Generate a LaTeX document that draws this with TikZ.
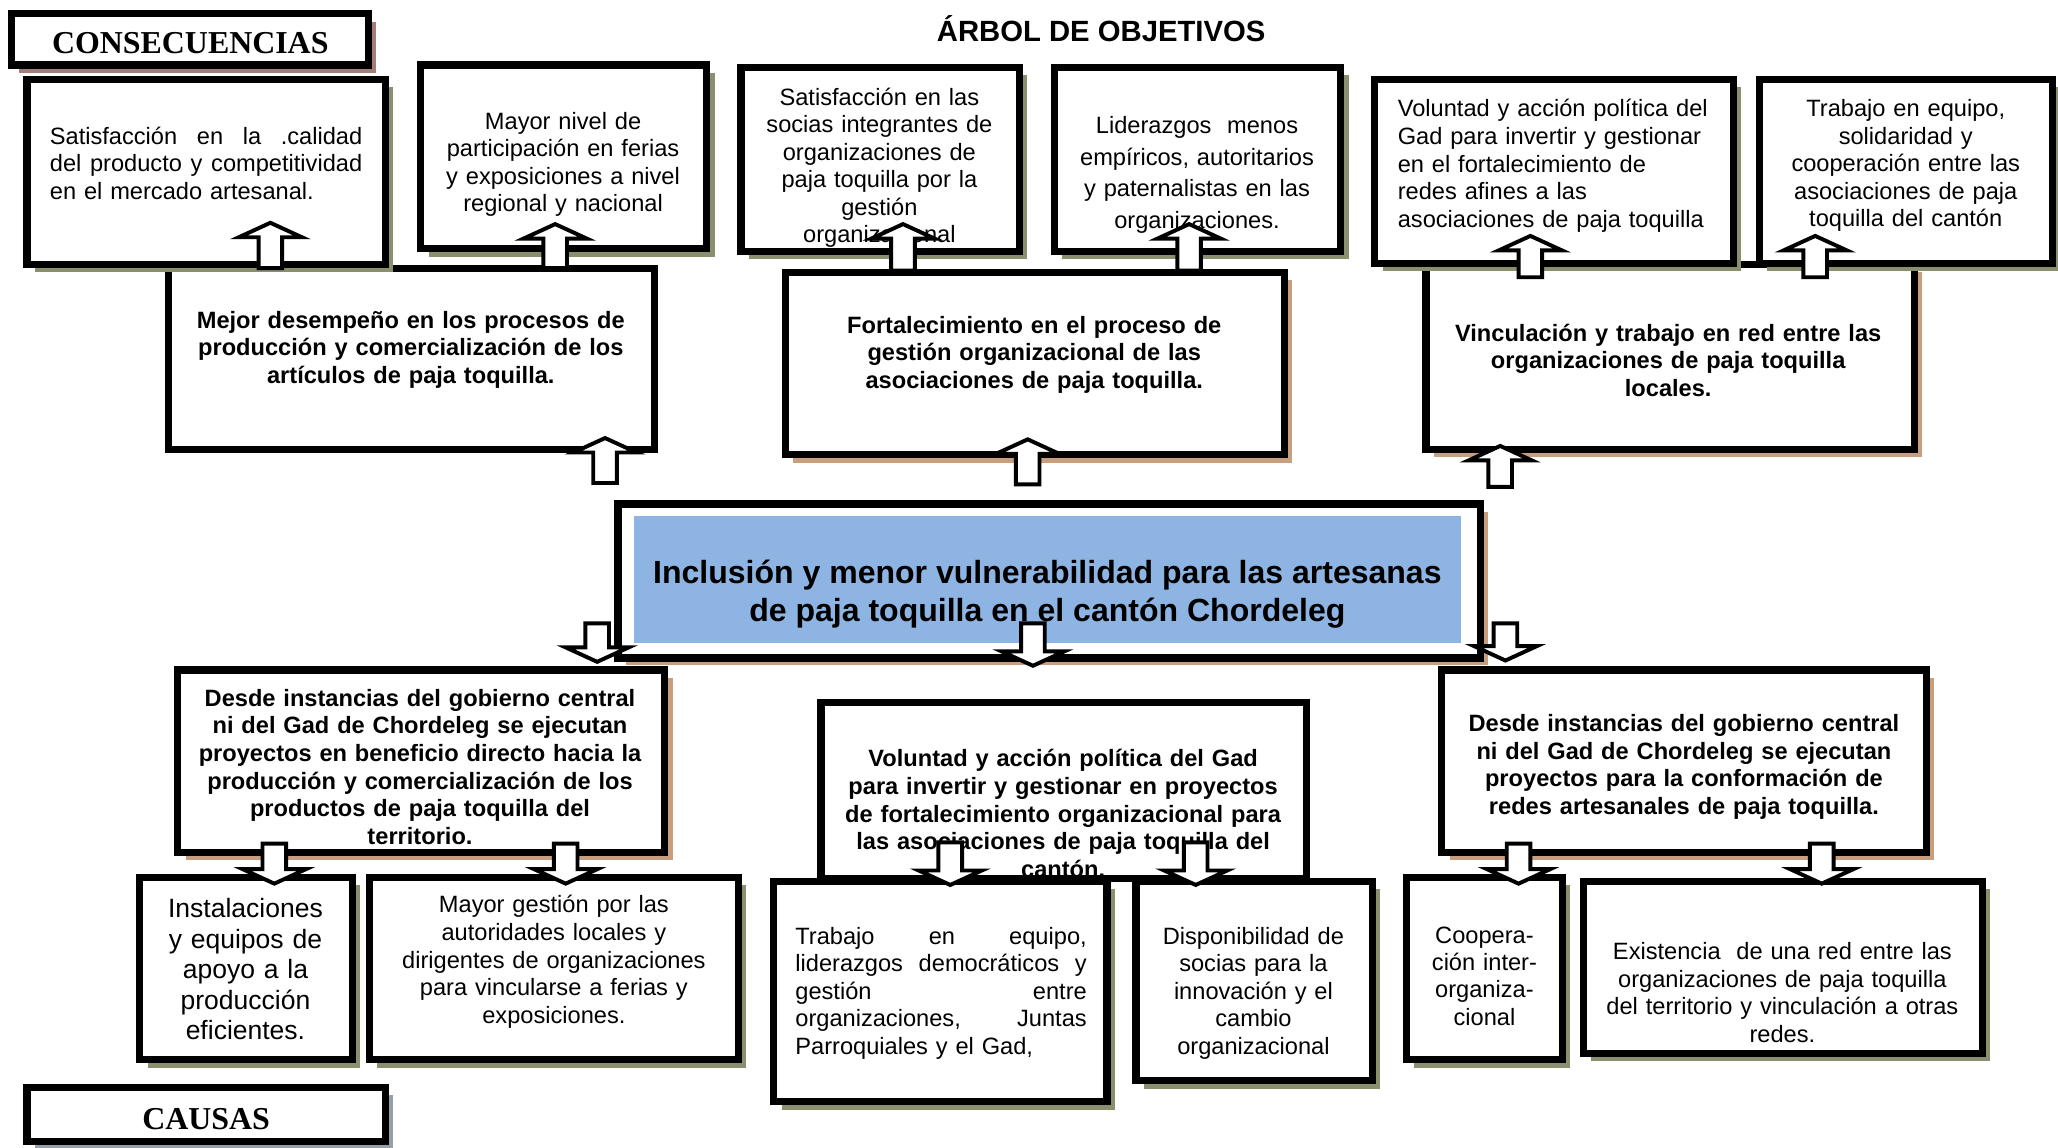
\documentclass[tikz,border=0pt]{standalone}
\usepackage{fontspec}
\setmainfont{Liberation Sans}
\newfontfamily\romanfont{Liberation Serif}
\usepackage{tikz}
\usetikzlibrary{calc,shadows}

\definecolor{olivesh}{RGB}{138,144,110}
\definecolor{tansh}{RGB}{200,158,126}
\definecolor{rosesh}{RGB}{165,125,120}
\definecolor{greysh}{RGB}{150,160,170}
\definecolor{goalblue}{RGB}{141,180,226}

% block arrow from tail (#1) to tip (#2)
\newcommand\fatarrow[2]{%
  \path (#1) coordinate (tl) (#2) coordinate (tp);
  \path ($(tp)!11pt!(tl)$) coordinate (hd);
  \draw[fat] ($(tl)!9pt!90:(tp)$) -- ($(hd)!9pt!90:(tp)$) -- ($(hd)!24pt!90:(tp)$) -- (tp)
    -- ($(hd)!24pt!-90:(tp)$) -- ($(hd)!9pt!-90:(tp)$) -- ($(tl)!9pt!-90:(tp)$) -- cycle;}
% line spread to a given width
\newcommand\spreadline[2]{\leavevmode\hbox to #1{#2}}

\begin{document}
\begin{tikzpicture}[x=1pt, y=-1pt,
  box/.style={draw, line width=5.5pt, fill=white, inner sep=0pt},
  olivebox/.style={box, drop shadow={shadow xshift=6pt, shadow yshift=-6pt, fill=olivesh, opacity=1}},
  tanbox/.style={box, drop shadow={shadow xshift=6pt, shadow yshift=-6pt, fill=tansh, opacity=1}},
  txt/.style={inner sep=0pt, align=center, font=\fontsize{18}{21}\selectfont},
  boldtxt/.style={txt, font=\fontsize{18}{21}\selectfont\bfseries},
  headtxt/.style={inner sep=0pt, font=\fontsize{24.3}{28}\selectfont\romanfont\bfseries},
  fat/.style={draw, fill=white, line width=3pt, line join=miter}]

\fill[white] (0,0) rectangle (1568,874);
\useasboundingbox (0,0) rectangle (1568,874);

% efectos
\node[box, minimum width=370pt, minimum height=138pt] (M1) at (313.5,273.5) {};
\node[tanbox, minimum width=380pt, minimum height=139pt] (M2) at (788.5,277) {};
\node[tanbox, minimum width=372pt, minimum height=141pt] (M3) at (1272.5,272) {};

% consecuencias
\node[olivebox, minimum width=273pt, minimum height=141pt] (C1) at (157,131) {};
\node[olivebox, minimum width=218pt, minimum height=140pt] (C2) at (429.5,119.5) {};
\node[olivebox, minimum width=212pt, minimum height=140pt] (C3) at (670.5,121.5) {};
\node[olivebox, minimum width=218pt, minimum height=140pt] (C4) at (912.5,121.5) {};
\node[olivebox, minimum width=273pt, minimum height=140pt] (C5) at (1184,130.5) {};
\node[olivebox, minimum width=223pt, minimum height=140pt] (C6) at (1452,130.5) {};
\node[box, drop shadow={shadow xshift=6pt, shadow yshift=-6pt, fill=rosesh, opacity=1},
  minimum width=272pt, minimum height=39pt] (cons) at (144.5,30) {};

% problema central
\node[tanbox, line width=6pt, minimum width=657pt, minimum height=117pt] (goal) at (799.5,442.5) {};
\node[fill=goalblue, inner sep=0pt, minimum width=630pt, minimum height=97pt] (goalfill) at (798,441.5) {};

% causas
\node[tanbox, minimum width=371pt, minimum height=139pt] (K1) at (321,580) {};
\node[box, minimum width=370pt, minimum height=134pt] (K2) at (810.5,602.5) {};
\node[tanbox, minimum width=369pt, minimum height=139pt] (K3) at (1283,580) {};
\node[olivebox, minimum width=162pt, minimum height=139pt] (B1) at (187.5,738) {};
\node[olivebox, minimum width=281pt, minimum height=139pt] (B2) at (422,738) {};
\node[olivebox, minimum width=254pt, minimum height=168pt] (B3) at (716.5,755.5) {};
\node[olivebox, minimum width=180pt, minimum height=152pt] (B4) at (955.5,747.5) {};
\node[olivebox, minimum width=119pt, minimum height=139pt] (B5) at (1131,738) {};
\node[olivebox, minimum width=304pt, minimum height=131pt] (B6) at (1358.5,737) {};
\node[box, drop shadow={shadow xshift=6pt, shadow yshift=-6pt, fill=greysh, opacity=1},
  minimum width=273pt, minimum height=41pt] (causes) at (157,849) {};

% textos
\node[font=\fontsize{22.3}{26}\selectfont\bfseries, anchor=base, inner sep=0pt] (title) at (839,32) {ÁRBOL DE OBJETIVOS};
\node[headtxt] (conslbl) at (145,33) {CONSECUENCIAS};
\node[headtxt] (causeslbl) at (157,853) {CAUSAS};

\node[txt, align=left, text width=238pt] (C1t) at (157,124.3) {\spreadline{238pt}{Satisfacción\hfil{} en\hfil{} la\hfil{} .calidad}\\
  \spreadline{238pt}{del\hfil{} producto\hfil{} y\hfil{} competitividad}\\ en el mercado artesanal.};
\node[txt, text width=215pt] (C2t) at (429,125.3) {Mayor nivel de\\ participación en ferias\\ y exposiciones a nivel\\ regional y nacional};
\node[txt, text width=210pt] (C3t) at (670,127.8) {Satisfacción en las\\ socias integrantes de\\ organizaciones de\\ paja toquilla por la\\ gestión\\ organizacional};
\node[txt, text width=215pt, font=\fontsize{18}{24}\selectfont] (C4t) at (912,133.3) {Liderazgos\ \ menos\\ empíricos, autoritarios\\ y paternalistas en las\\ organizaciones.};
\node[txt, align=left, text width=240pt] (C5t) at (1185,126.3) {Voluntad y acción política del\\ Gad para invertir y gestionar\\ en el fortalecimiento de\\ redes afines a las\\ asociaciones de paja toquilla};
\node[txt, text width=220pt] (C6t) at (1452,126.3) {Trabajo en equipo,\\ solidaridad y\\ cooperación entre las\\ asociaciones de paja\\ toquilla del cantón};

\node[boldtxt, text width=365pt] (M1t) at (313,266.3) {Mejor desempeño en los procesos de\\ producción y comercialización de los\\ artículos de paja toquilla.};
\node[boldtxt, text width=375pt] (M2t) at (788,270.3) {Fortalecimiento en el proceso de\\ gestión organizacional de las\\ asociaciones de paja toquilla.};
\node[boldtxt, text width=365pt] (M3t) at (1271,274.3) {Vinculación y trabajo en red entre las\\ organizaciones de paja toquilla\\ locales.};

\node[txt, font=\fontsize{24.4}{29}\selectfont\bfseries] (goalt) at (798,453) {Inclusión y menor vulnerabilidad para las artesanas\\ de paja toquilla en el cantón Chordeleg};

\node[boldtxt, text width=368pt] (K1t) at (320,584.3) {Desde instancias del gobierno central\\ ni del Gad de Chordeleg se ejecutan\\ proyectos en beneficio directo hacia la\\ producción y comercialización de los\\ productos de paja toquilla del\\ territorio.};
\node[boldtxt, text width=366pt] (K2t) at (810,619.8) {Voluntad y acción política del Gad\\ para invertir y gestionar en proyectos\\ de fortalecimiento organizacional para\\ las asociaciones de paja toquilla del\\ cantón.};
\node[boldtxt, text width=366pt] (K3t) at (1283,584.3) {Desde instancias del gobierno central\\ ni del Gad de Chordeleg se ejecutan\\ proyectos para la conformación de\\ redes artesanales de paja toquilla.};

\node[txt, text width=158pt, font=\fontsize{20.2}{23.3}\selectfont] (B1t) at (187,738.5) {Instalaciones\\ y equipos de\\ apoyo a la\\ producción\\ eficientes.};
\node[txt, text width=276pt] (B2t) at (422,732.8) {Mayor gestión por las\\ autoridades locales y\\ dirigentes de organizaciones\\ para vincularse a ferias y\\ exposiciones.};
\node[txt, align=left, text width=222pt] (B3t) at (717,756.8) {\spreadline{222pt}{Trabajo\hfil{} en\hfil{} equipo,}\\
  \spreadline{222pt}{liderazgos\hfil{} democráticos\hfil{} y}\\ \spreadline{222pt}{gestión\hfil{} entre}\\
  \spreadline{222pt}{organizaciones,\hfil{} Juntas}\\ Parroquiales y el Gad,};
\node[txt, text width=176pt] (B4t) at (955,756.8) {Disponibilidad de\\ socias para la\\ innovación y el\\ cambio\\ organizacional};
\node[txt, text width=115pt, font=\fontsize{18}{20.7}\selectfont] (B5t) at (1131,743.8) {Coopera-\\ ción inter-\\ organiza-\\ cional};
\node[txt, text width=300pt] (B6t) at (1358,756.3) {Existencia\ \ de una red entre las\\ organizaciones de paja toquilla\\ del territorio y vinculación a otras\\ redes.};

% flechas
\fatarrow{[xshift=-107.5pt,yshift=-2.5pt]M1.north}{[xshift=49pt,yshift=34.5pt]C1.south}
\fatarrow{[xshift=109.5pt,yshift=-2.5pt]M1.north}{[xshift=-6.5pt,yshift=21.5pt]C2.south}
\fatarrow{[xshift=-100.5pt,yshift=-1.5pt]M2.north}{[xshift=17.5pt,yshift=23.5pt]C3.south}
\fatarrow{[xshift=117.5pt,yshift=-1.5pt]M2.north}{[xshift=-6.5pt,yshift=23.5pt]C4.south}
\fatarrow{[xshift=-106.5pt,yshift=-12.5pt]M3.north}{[xshift=-18pt,yshift=23.5pt]C5.south}
\fatarrow{[xshift=110.5pt,yshift=-12.5pt]M3.north}{[xshift=-69pt,yshift=23.5pt]C6.south}

\fatarrow{[xshift=-338.5pt,yshift=13pt]goal.north}{[xshift=147.5pt,yshift=11.5pt]M1.south}
\fatarrow{[xshift=-16.5pt,yshift=12pt]goal.north}{[xshift=-5.5pt,yshift=14.5pt]M2.south}
\fatarrow{[xshift=343.5pt,yshift=10pt]goal.north}{[xshift=-129.5pt,yshift=5.5pt]M3.south}

\fatarrow{[xshift=-344.5pt,yshift=29pt]goal.south}{[xshift=134pt,yshift=3.5pt]K1.north}
\fatarrow{[xshift=-12.5pt,yshift=29pt]goal.south}{[xshift=-23.5pt,yshift=25.5pt]K2.north}
\fatarrow{[xshift=347.5pt,yshift=29pt]goal.south}{[xshift=-136pt,yshift=4.5pt]K3.north}

\fatarrow{[xshift=-112pt,yshift=9.5pt]K1.south}{[xshift=21.5pt,yshift=-7.5pt]B1.north}
\fatarrow{[xshift=110pt,yshift=9.5pt]K1.south}{[xshift=9pt,yshift=-7.5pt]B2.north}
\fatarrow{[xshift=-86.5pt,yshift=30.5pt]K2.south}{[xshift=7.5pt,yshift=-5.5pt]B3.north}
\fatarrow{[xshift=100.5pt,yshift=30.5pt]K2.south}{[xshift=-44.5pt,yshift=-5.5pt]B4.north}
\fatarrow{[xshift=-126pt,yshift=9.5pt]K3.south}{[xshift=26pt,yshift=-7.5pt]B5.north}
\fatarrow{[xshift=105pt,yshift=9.5pt]K3.south}{[xshift=29.5pt,yshift=-4.5pt]B6.north}
\end{tikzpicture}
\end{document}
